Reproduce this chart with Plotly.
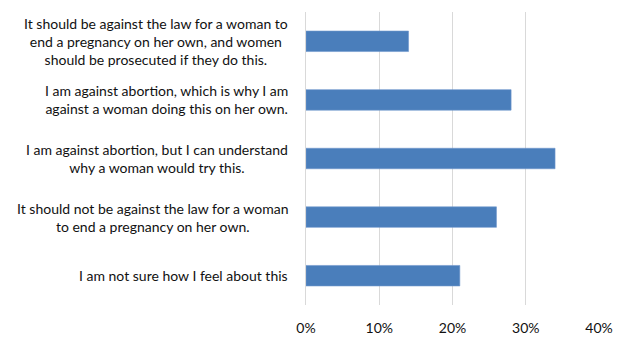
import plotly.graph_objects as go

# Survey responses (top to bottom) and share of respondents
categories = [
    "It should be against the law for a woman to<br>end a pregnancy on her own, and women<br>should be prosecuted if they do this.",
    "I am against abortion, which is why I am<br>against a woman doing this on her own.",
    "I am against abortion, but I can understand<br>why a woman would try this.",
    "It should not be against the law for a woman<br>to end a pregnancy on her own.",
    "I am not sure how I feel about this",
]
shares = [0.14, 0.28, 0.34, 0.26, 0.21]
tick_values = [0, 0.1, 0.2, 0.3, 0.4]
tick_labels = ["0%", "10%", "20%", "30%", "40%"]

FONT = "Lato"
TEXT = "#111111"

fig = go.Figure(
    go.Bar(
        x=shares,
        y=categories,
        orientation="h",
        width=0.35,
        marker=dict(color="#4a7ebb", line=dict(color="#6f97cc", width=0.6)),
        hoverinfo="skip",
    )
)

# Category labels as centred multi-line annotations anchored to the y axis
for cat in categories:
    fig.add_annotation(
        x=0, xref="paper", y=cat, yref="y",
        text=cat, showarrow=False,
        xanchor="right", yanchor="middle", align="center",
        xshift=-16,
        font=dict(family=FONT, size=14, color=TEXT),
    )

fig.update_layout(
    width=630, height=338,
    margin=dict(l=306, r=31, t=12, b=33),
    paper_bgcolor="white", plot_bgcolor="white",
    showlegend=False,
    font=dict(family=FONT, size=14, color=TEXT),
    xaxis=dict(
        range=[0, 0.4],
        tickvals=tick_values, ticktext=tick_labels,
        showgrid=True, gridcolor="#d9d9d9", gridwidth=1,
        zeroline=False, showline=False,
        ticks="outside", ticklen=10, tickcolor="rgba(0,0,0,0)",
        automargin=False,
        fixedrange=True,
    ),
    yaxis=dict(
        categoryorder="array", categoryarray=categories[::-1],
        showticklabels=False, ticks="",
        showline=True, linecolor="#d9d9d9", linewidth=1,
        showgrid=False, zeroline=False,
        automargin=False,
        fixedrange=True,
    ),
)

fig.write_html("out.html")
